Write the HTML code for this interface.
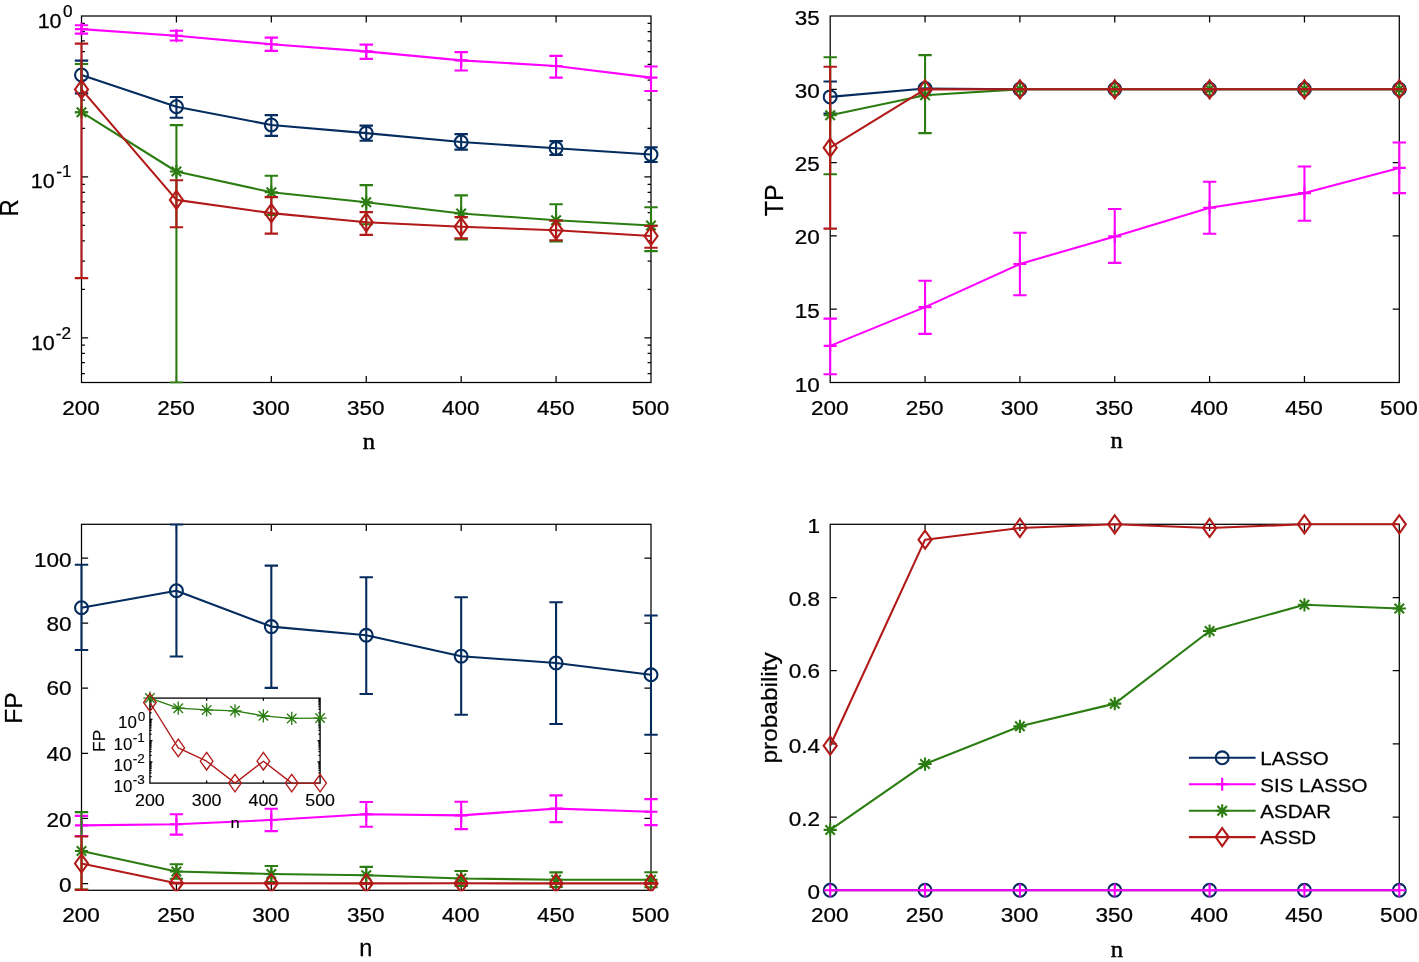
<!DOCTYPE html>
<html><head><meta charset="utf-8"><title>figure</title>
<style>html,body{margin:0;padding:0;background:#fff}svg{display:block;will-change:transform}text{white-space:pre}</style>
</head><body>
<svg width="1419" height="962" viewBox="0 0 1419 962">
<rect width="1419" height="962" fill="#fff"/>
<defs>
<clipPath id="c1"><rect x="73.5" y="15" width="585.5" height="368.5"/></clipPath>
<clipPath id="c2"><rect x="822.2" y="15" width="585.1" height="368.5"/></clipPath>
<clipPath id="c3"><rect x="73.5" y="523.3" width="585.5" height="368"/></clipPath>
<clipPath id="c4"><rect x="822.2" y="523.3" width="585.1" height="368"/></clipPath>
</defs>
<rect x="81.5" y="16" width="569.5" height="366.5" fill="none" stroke="#000" stroke-width="1.25"/>
<path d="M176.42 382.5V375.9M176.42 16V22.6M271.33 382.5V375.9M271.33 16V22.6M366.25 382.5V375.9M366.25 16V22.6M461.17 382.5V375.9M461.17 16V22.6M556.08 382.5V375.9M556.08 16V22.6M81.5 176.9H88.1M651 176.9H644.4M81.5 337.8H88.1M651 337.8H644.4M81.5 128.46H84.9M651 128.46H647.6M81.5 100.13H84.9M651 100.13H647.6M81.5 80.03H84.9M651 80.03H647.6M81.5 64.44H84.9M651 64.44H647.6M81.5 51.7H84.9M651 51.7H647.6M81.5 40.92H84.9M651 40.92H647.6M81.5 31.59H84.9M651 31.59H647.6M81.5 23.36H84.9M651 23.36H647.6M81.5 289.36H84.9M651 289.36H647.6M81.5 261.03H84.9M651 261.03H647.6M81.5 240.93H84.9M651 240.93H647.6M81.5 225.34H84.9M651 225.34H647.6M81.5 212.6H84.9M651 212.6H647.6M81.5 201.82H84.9M651 201.82H647.6M81.5 192.49H84.9M651 192.49H647.6M81.5 184.26H84.9M651 184.26H647.6M81.5 373.5H84.9M651 373.5H647.6M81.5 362.72H84.9M651 362.72H647.6M81.5 353.39H84.9M651 353.39H647.6M81.5 345.16H84.9M651 345.16H647.6" stroke="#000" stroke-width="1.25" fill="none"/>
<text transform="translate(81.1,415.1) scale(1.11,1)" font-family='"Liberation Sans", sans-serif' font-size="20.3" text-anchor="middle" fill="#000" stroke="#000" stroke-width="0.25">200</text>
<text transform="translate(176.02,415.1) scale(1.11,1)" font-family='"Liberation Sans", sans-serif' font-size="20.3" text-anchor="middle" fill="#000" stroke="#000" stroke-width="0.25">250</text>
<text transform="translate(270.93,415.1) scale(1.11,1)" font-family='"Liberation Sans", sans-serif' font-size="20.3" text-anchor="middle" fill="#000" stroke="#000" stroke-width="0.25">300</text>
<text transform="translate(365.85,415.1) scale(1.11,1)" font-family='"Liberation Sans", sans-serif' font-size="20.3" text-anchor="middle" fill="#000" stroke="#000" stroke-width="0.25">350</text>
<text transform="translate(460.77,415.1) scale(1.11,1)" font-family='"Liberation Sans", sans-serif' font-size="20.3" text-anchor="middle" fill="#000" stroke="#000" stroke-width="0.25">400</text>
<text transform="translate(555.68,415.1) scale(1.11,1)" font-family='"Liberation Sans", sans-serif' font-size="20.3" text-anchor="middle" fill="#000" stroke="#000" stroke-width="0.25">450</text>
<text transform="translate(650.6,415.1) scale(1.11,1)" font-family='"Liberation Sans", sans-serif' font-size="20.3" text-anchor="middle" fill="#000" stroke="#000" stroke-width="0.25">500</text>
<text transform="translate(37.64,27.5) scale(1.06,1)" font-family='"Liberation Sans", sans-serif' font-size="20.3" text-anchor="start" fill="#000" stroke="#000" stroke-width="0.25">10</text>
<text transform="translate(63.01,16.5) scale(1.1,1)" font-family='"Liberation Sans", sans-serif' font-size="15.6" text-anchor="start" fill="#000" stroke="#000" stroke-width="0.25">0</text>
<text transform="translate(30.79,188.4) scale(1.06,1)" font-family='"Liberation Sans", sans-serif' font-size="20.3" text-anchor="start" fill="#000" stroke="#000" stroke-width="0.25">10</text>
<text transform="translate(56.23,177.2) scale(1.1,1)" font-family='"Liberation Sans", sans-serif' font-size="15.6" text-anchor="start" fill="#000" stroke="#000" stroke-width="0.25">-1</text>
<text transform="translate(30.89,349.85) scale(1.06,1)" font-family='"Liberation Sans", sans-serif' font-size="20.3" text-anchor="start" fill="#000" stroke="#000" stroke-width="0.25">10</text>
<text transform="translate(55.78,339) scale(1.1,1)" font-family='"Liberation Sans", sans-serif' font-size="15.6" text-anchor="start" fill="#000" stroke="#000" stroke-width="0.25">-2</text>
<text transform="translate(18,216.58) rotate(-90) scale(0.94,1)" font-family='"Liberation Sans", sans-serif' font-size="25.45" text-anchor="start" fill="#000" stroke="#000" stroke-width="0.25">R</text>
<text transform="translate(362.75,448.6) scale(1.02,1)" font-family='"Liberation Serif", serif' font-size="24.04" text-anchor="start" fill="#000" stroke="#000" stroke-width="0.45">n</text>
<g clip-path="url(#c1)">
<path d="M81.5 60.6V93.4M74.8 60.6H88.2M74.8 93.4H88.2M176.42 97V117.8M169.72 97H183.12M169.72 117.8H183.12M271.33 115.1V135.9M264.63 115.1H278.03M264.63 135.9H278.03M366.25 125.6V140.8M359.55 125.6H372.95M359.55 140.8H372.95M461.17 134.1V149.6M454.47 134.1H467.87M454.47 149.6H467.87M556.08 141.1V155M549.38 141.1H562.78M549.38 155H562.78M651 147.3V162M644.3 147.3H657.7M644.3 162H657.7" stroke="#052C5F" stroke-width="2.1" fill="none"/>
<polyline points="81.5,75 176.42,106.7 271.33,125 366.25,133.1 461.17,142 556.08,148.3 651,154.5" fill="none" stroke="#052C5F" stroke-width="2.1" stroke-linejoin="round"/>
<circle cx="81.5" cy="75" r="6.45" fill="none" stroke="#052C5F" stroke-width="2.1"/>
<circle cx="176.42" cy="106.7" r="6.45" fill="none" stroke="#052C5F" stroke-width="2.1"/>
<circle cx="271.33" cy="125" r="6.45" fill="none" stroke="#052C5F" stroke-width="2.1"/>
<circle cx="366.25" cy="133.1" r="6.45" fill="none" stroke="#052C5F" stroke-width="2.1"/>
<circle cx="461.17" cy="142" r="6.45" fill="none" stroke="#052C5F" stroke-width="2.1"/>
<circle cx="556.08" cy="148.3" r="6.45" fill="none" stroke="#052C5F" stroke-width="2.1"/>
<circle cx="651" cy="154.5" r="6.45" fill="none" stroke="#052C5F" stroke-width="2.1"/>
<path d="M81.5 25.3V33.6M74.8 25.3H88.2M74.8 33.6H88.2M176.42 30.7V40.5M169.72 30.7H183.12M169.72 40.5H183.12M271.33 37.6V50.9M264.63 37.6H278.03M264.63 50.9H278.03M366.25 44.6V58.9M359.55 44.6H372.95M359.55 58.9H372.95M461.17 52.1V70.5M454.47 52.1H467.87M454.47 70.5H467.87M556.08 55.9V77.6M549.38 55.9H562.78M549.38 77.6H562.78M651 66.5V91M644.3 66.5H657.7M644.3 91H657.7" stroke="#FF00FF" stroke-width="2.1" fill="none"/>
<polyline points="81.5,29.1 176.42,35.7 271.33,44.2 366.25,51.4 461.17,60.4 556.08,66 651,77.6" fill="none" stroke="#FF00FF" stroke-width="2.1" stroke-linejoin="round"/>
<path d="M75 29.1H88M81.5 22.6V35.6" stroke="#FF00FF" stroke-width="2.1" fill="none"/>
<path d="M169.92 35.7H182.92M176.42 29.2V42.2" stroke="#FF00FF" stroke-width="2.1" fill="none"/>
<path d="M264.83 44.2H277.83M271.33 37.7V50.7" stroke="#FF00FF" stroke-width="2.1" fill="none"/>
<path d="M359.75 51.4H372.75M366.25 44.9V57.9" stroke="#FF00FF" stroke-width="2.1" fill="none"/>
<path d="M454.67 60.4H467.67M461.17 53.9V66.9" stroke="#FF00FF" stroke-width="2.1" fill="none"/>
<path d="M549.58 66H562.58M556.08 59.5V72.5" stroke="#FF00FF" stroke-width="2.1" fill="none"/>
<path d="M644.5 77.6H657.5M651 71.1V84.1" stroke="#FF00FF" stroke-width="2.1" fill="none"/>
<path d="M81.5 64V112.2M74.8 64H88.2M74.8 112.2H88.2M176.42 125.1V382.5M169.72 125.1H183.12M169.72 382.5H183.12M271.33 175.8V215M264.63 175.8H278.03M264.63 215H278.03M366.25 185.1V224.3M359.55 185.1H372.95M359.55 224.3H372.95M461.17 195.4V239.4M454.47 195.4H467.87M454.47 239.4H467.87M556.08 204.3V241.4M549.38 204.3H562.78M549.38 241.4H562.78M651 207.3V251.1M644.3 207.3H657.7M644.3 251.1H657.7" stroke="#2B7D12" stroke-width="2.1" fill="none"/>
<polyline points="81.5,112.2 176.42,171.5 271.33,192.3 366.25,202.3 461.17,213.5 556.08,220.2 651,225.5" fill="none" stroke="#2B7D12" stroke-width="2.1" stroke-linejoin="round"/>
<path d="M74.9 112.2H88.1M81.5 105.6V118.8M76.75 107.45L86.25 116.95M76.75 116.95L86.25 107.45" stroke="#2B7D12" stroke-width="2.1" fill="none"/>
<path d="M169.82 171.5H183.02M176.42 164.9V178.1M171.66 166.75L181.17 176.25M171.66 176.25L181.17 166.75" stroke="#2B7D12" stroke-width="2.1" fill="none"/>
<path d="M264.73 192.3H277.93M271.33 185.7V198.9M266.58 187.55L276.09 197.05M266.58 197.05L276.09 187.55" stroke="#2B7D12" stroke-width="2.1" fill="none"/>
<path d="M359.65 202.3H372.85M366.25 195.7V208.9M361.5 197.55L371 207.05M361.5 207.05L371 197.55" stroke="#2B7D12" stroke-width="2.1" fill="none"/>
<path d="M454.57 213.5H467.77M461.17 206.9V220.1M456.41 208.75L465.92 218.25M456.41 218.25L465.92 208.75" stroke="#2B7D12" stroke-width="2.1" fill="none"/>
<path d="M549.48 220.2H562.68M556.08 213.6V226.8M551.33 215.45L560.84 224.95M551.33 224.95L560.84 215.45" stroke="#2B7D12" stroke-width="2.1" fill="none"/>
<path d="M644.4 225.5H657.6M651 218.9V232.1M646.25 220.75L655.75 230.25M646.25 230.25L655.75 220.75" stroke="#2B7D12" stroke-width="2.1" fill="none"/>
<path d="M81.5 43.6V278.1M74.8 43.6H88.2M74.8 278.1H88.2M176.42 180.2V227.3M169.72 180.2H183.12M169.72 227.3H183.12M271.33 197.1V233.6M264.63 197.1H278.03M264.63 233.6H278.03M366.25 212.1V234.9M359.55 212.1H372.95M359.55 234.9H372.95M461.17 217.1V238.2M454.47 217.1H467.87M454.47 238.2H467.87M556.08 220.7V240.2M549.38 220.7H562.78M549.38 240.2H562.78M651 226V247.7M644.3 226H657.7M644.3 247.7H657.7" stroke="#B21919" stroke-width="2.1" fill="none"/>
<polyline points="81.5,89.4 176.42,199.9 271.33,213.1 366.25,222.3 461.17,226.8 556.08,230.2 651,236" fill="none" stroke="#B21919" stroke-width="2.1" stroke-linejoin="round"/>
<path d="M81.5 80.35L88.05 89.4L81.5 98.45L74.95 89.4Z" stroke="#B21919" stroke-width="2.1" fill="none" stroke-linejoin="miter" stroke-miterlimit="10"/>
<path d="M176.42 190.85L182.97 199.9L176.42 208.95L169.87 199.9Z" stroke="#B21919" stroke-width="2.1" fill="none" stroke-linejoin="miter" stroke-miterlimit="10"/>
<path d="M271.33 204.05L277.88 213.1L271.33 222.15L264.78 213.1Z" stroke="#B21919" stroke-width="2.1" fill="none" stroke-linejoin="miter" stroke-miterlimit="10"/>
<path d="M366.25 213.25L372.8 222.3L366.25 231.35L359.7 222.3Z" stroke="#B21919" stroke-width="2.1" fill="none" stroke-linejoin="miter" stroke-miterlimit="10"/>
<path d="M461.17 217.75L467.72 226.8L461.17 235.85L454.62 226.8Z" stroke="#B21919" stroke-width="2.1" fill="none" stroke-linejoin="miter" stroke-miterlimit="10"/>
<path d="M556.08 221.15L562.63 230.2L556.08 239.25L549.53 230.2Z" stroke="#B21919" stroke-width="2.1" fill="none" stroke-linejoin="miter" stroke-miterlimit="10"/>
<path d="M651 226.95L657.55 236L651 245.05L644.45 236Z" stroke="#B21919" stroke-width="2.1" fill="none" stroke-linejoin="miter" stroke-miterlimit="10"/>
</g>
<rect x="830.2" y="16" width="569.1" height="366.5" fill="none" stroke="#000" stroke-width="1.25"/>
<path d="M925.05 382.5V375.9M925.05 16V22.6M1019.9 382.5V375.9M1019.9 16V22.6M1114.75 382.5V375.9M1114.75 16V22.6M1209.6 382.5V375.9M1209.6 16V22.6M1304.45 382.5V375.9M1304.45 16V22.6M830.2 89.3H836.8M1399.3 89.3H1392.7M830.2 162.6H836.8M1399.3 162.6H1392.7M830.2 235.9H836.8M1399.3 235.9H1392.7M830.2 309.2H836.8M1399.3 309.2H1392.7" stroke="#000" stroke-width="1.25" fill="none"/>
<text transform="translate(829.8,415.1) scale(1.11,1)" font-family='"Liberation Sans", sans-serif' font-size="20.3" text-anchor="middle" fill="#000" stroke="#000" stroke-width="0.25">200</text>
<text transform="translate(924.65,415.1) scale(1.11,1)" font-family='"Liberation Sans", sans-serif' font-size="20.3" text-anchor="middle" fill="#000" stroke="#000" stroke-width="0.25">250</text>
<text transform="translate(1019.5,415.1) scale(1.11,1)" font-family='"Liberation Sans", sans-serif' font-size="20.3" text-anchor="middle" fill="#000" stroke="#000" stroke-width="0.25">300</text>
<text transform="translate(1114.35,415.1) scale(1.11,1)" font-family='"Liberation Sans", sans-serif' font-size="20.3" text-anchor="middle" fill="#000" stroke="#000" stroke-width="0.25">350</text>
<text transform="translate(1209.2,415.1) scale(1.11,1)" font-family='"Liberation Sans", sans-serif' font-size="20.3" text-anchor="middle" fill="#000" stroke="#000" stroke-width="0.25">400</text>
<text transform="translate(1304.05,415.1) scale(1.11,1)" font-family='"Liberation Sans", sans-serif' font-size="20.3" text-anchor="middle" fill="#000" stroke="#000" stroke-width="0.25">450</text>
<text transform="translate(1398.9,415.1) scale(1.11,1)" font-family='"Liberation Sans", sans-serif' font-size="20.3" text-anchor="middle" fill="#000" stroke="#000" stroke-width="0.25">500</text>
<text transform="translate(819.7,24.8) scale(1.11,1)" font-family='"Liberation Sans", sans-serif' font-size="20.3" text-anchor="end" fill="#000" stroke="#000" stroke-width="0.25">35</text>
<text transform="translate(819.7,97.6) scale(1.11,1)" font-family='"Liberation Sans", sans-serif' font-size="20.3" text-anchor="end" fill="#000" stroke="#000" stroke-width="0.25">30</text>
<text transform="translate(819.7,170.9) scale(1.11,1)" font-family='"Liberation Sans", sans-serif' font-size="20.3" text-anchor="end" fill="#000" stroke="#000" stroke-width="0.25">25</text>
<text transform="translate(819.7,244.2) scale(1.11,1)" font-family='"Liberation Sans", sans-serif' font-size="20.3" text-anchor="end" fill="#000" stroke="#000" stroke-width="0.25">20</text>
<text transform="translate(819.7,317.5) scale(1.11,1)" font-family='"Liberation Sans", sans-serif' font-size="20.3" text-anchor="end" fill="#000" stroke="#000" stroke-width="0.25">15</text>
<text transform="translate(819.7,391.6) scale(1.11,1)" font-family='"Liberation Sans", sans-serif' font-size="20.3" text-anchor="end" fill="#000" stroke="#000" stroke-width="0.25">10</text>
<text transform="translate(782.7,216.26) rotate(-90) scale(0.98,1)" font-family='"Liberation Sans", sans-serif' font-size="25.45" text-anchor="start" fill="#000" stroke="#000" stroke-width="0.25">TP</text>
<text transform="translate(1110.55,448.3) scale(1.02,1)" font-family='"Liberation Serif", serif' font-size="24.04" text-anchor="start" fill="#000" stroke="#000" stroke-width="0.45">n</text>
<g clip-path="url(#c2)">
<path d="M830.2 81.5V113.6M823.5 81.5H836.9M823.5 113.6H836.9M925.05 88.5V88.5M918.35 88.5H931.75M918.35 88.5H931.75M1019.9 89.3V89.3M1013.2 89.3H1026.6M1013.2 89.3H1026.6M1114.75 89.3V89.3M1108.05 89.3H1121.45M1108.05 89.3H1121.45M1209.6 89.3V89.3M1202.9 89.3H1216.3M1202.9 89.3H1216.3M1304.45 89.3V89.3M1297.75 89.3H1311.15M1297.75 89.3H1311.15M1399.3 89.3V89.3M1392.6 89.3H1406M1392.6 89.3H1406" stroke="#052C5F" stroke-width="2.1" fill="none"/>
<polyline points="830.2,96.9 925.05,88.5 1019.9,89.3 1114.75,89.3 1209.6,89.3 1304.45,89.3 1399.3,89.3" fill="none" stroke="#052C5F" stroke-width="2.1" stroke-linejoin="round"/>
<circle cx="830.2" cy="96.9" r="6.45" fill="none" stroke="#052C5F" stroke-width="2.1"/>
<circle cx="925.05" cy="88.5" r="6.45" fill="none" stroke="#052C5F" stroke-width="2.1"/>
<circle cx="1019.9" cy="89.3" r="6.45" fill="none" stroke="#052C5F" stroke-width="2.1"/>
<circle cx="1114.75" cy="89.3" r="6.45" fill="none" stroke="#052C5F" stroke-width="2.1"/>
<circle cx="1209.6" cy="89.3" r="6.45" fill="none" stroke="#052C5F" stroke-width="2.1"/>
<circle cx="1304.45" cy="89.3" r="6.45" fill="none" stroke="#052C5F" stroke-width="2.1"/>
<circle cx="1399.3" cy="89.3" r="6.45" fill="none" stroke="#052C5F" stroke-width="2.1"/>
<path d="M830.2 318.6V374.3M823.5 318.6H836.9M823.5 374.3H836.9M925.05 280.8V333.9M918.35 280.8H931.75M918.35 333.9H931.75M1019.9 232.8V295.3M1013.2 232.8H1026.6M1013.2 295.3H1026.6M1114.75 209V262.9M1108.05 209H1121.45M1108.05 262.9H1121.45M1209.6 181.8V233.8M1202.9 181.8H1216.3M1202.9 233.8H1216.3M1304.45 166.5V220.7M1297.75 166.5H1311.15M1297.75 220.7H1311.15M1399.3 142.5V193.1M1392.6 142.5H1406M1392.6 193.1H1406" stroke="#FF00FF" stroke-width="2.1" fill="none"/>
<polyline points="830.2,345.9 925.05,307.1 1019.9,264 1114.75,236.4 1209.6,207.7 1304.45,193.1 1399.3,167.9" fill="none" stroke="#FF00FF" stroke-width="2.1" stroke-linejoin="round"/>
<path d="M823.7 345.9H836.7M830.2 339.4V352.4" stroke="#FF00FF" stroke-width="2.1" fill="none"/>
<path d="M918.55 307.1H931.55M925.05 300.6V313.6" stroke="#FF00FF" stroke-width="2.1" fill="none"/>
<path d="M1013.4 264H1026.4M1019.9 257.5V270.5" stroke="#FF00FF" stroke-width="2.1" fill="none"/>
<path d="M1108.25 236.4H1121.25M1114.75 229.9V242.9" stroke="#FF00FF" stroke-width="2.1" fill="none"/>
<path d="M1203.1 207.7H1216.1M1209.6 201.2V214.2" stroke="#FF00FF" stroke-width="2.1" fill="none"/>
<path d="M1297.95 193.1H1310.95M1304.45 186.6V199.6" stroke="#FF00FF" stroke-width="2.1" fill="none"/>
<path d="M1392.8 167.9H1405.8M1399.3 161.4V174.4" stroke="#FF00FF" stroke-width="2.1" fill="none"/>
<path d="M830.2 57.3V174.3M823.5 57.3H836.9M823.5 174.3H836.9M925.05 55.1V133.1M918.35 55.1H931.75M918.35 133.1H931.75M1019.9 89.3V89.3M1013.2 89.3H1026.6M1013.2 89.3H1026.6M1114.75 89.3V89.3M1108.05 89.3H1121.45M1108.05 89.3H1121.45M1209.6 89.3V89.3M1202.9 89.3H1216.3M1202.9 89.3H1216.3M1304.45 89.3V89.3M1297.75 89.3H1311.15M1297.75 89.3H1311.15M1399.3 89.3V89.3M1392.6 89.3H1406M1392.6 89.3H1406" stroke="#2B7D12" stroke-width="2.1" fill="none"/>
<polyline points="830.2,115.3 925.05,95.2 1019.9,89.3 1114.75,89.3 1209.6,89.3 1304.45,89.3 1399.3,89.3" fill="none" stroke="#2B7D12" stroke-width="2.1" stroke-linejoin="round"/>
<path d="M823.6 115.3H836.8M830.2 108.7V121.9M825.45 110.55L834.95 120.05M825.45 120.05L834.95 110.55" stroke="#2B7D12" stroke-width="2.1" fill="none"/>
<path d="M918.45 95.2H931.65M925.05 88.6V101.8M920.3 90.45L929.8 99.95M920.3 99.95L929.8 90.45" stroke="#2B7D12" stroke-width="2.1" fill="none"/>
<path d="M1013.3 89.3H1026.5M1019.9 82.7V95.9M1015.15 84.55L1024.65 94.05M1015.15 94.05L1024.65 84.55" stroke="#2B7D12" stroke-width="2.1" fill="none"/>
<path d="M1108.15 89.3H1121.35M1114.75 82.7V95.9M1110 84.55L1119.5 94.05M1110 94.05L1119.5 84.55" stroke="#2B7D12" stroke-width="2.1" fill="none"/>
<path d="M1203 89.3H1216.2M1209.6 82.7V95.9M1204.85 84.55L1214.35 94.05M1204.85 94.05L1214.35 84.55" stroke="#2B7D12" stroke-width="2.1" fill="none"/>
<path d="M1297.85 89.3H1311.05M1304.45 82.7V95.9M1299.7 84.55L1309.2 94.05M1299.7 94.05L1309.2 84.55" stroke="#2B7D12" stroke-width="2.1" fill="none"/>
<path d="M1392.7 89.3H1405.9M1399.3 82.7V95.9M1394.55 84.55L1404.05 94.05M1394.55 94.05L1404.05 84.55" stroke="#2B7D12" stroke-width="2.1" fill="none"/>
<path d="M830.2 66.8V228.6M823.5 66.8H836.9M823.5 228.6H836.9M925.05 89.4V89.4M918.35 89.4H931.75M918.35 89.4H931.75M1019.9 89.3V89.3M1013.2 89.3H1026.6M1013.2 89.3H1026.6M1114.75 89.3V89.3M1108.05 89.3H1121.45M1108.05 89.3H1121.45M1209.6 89.3V89.3M1202.9 89.3H1216.3M1202.9 89.3H1216.3M1304.45 89.3V89.3M1297.75 89.3H1311.15M1297.75 89.3H1311.15M1399.3 89.3V89.3M1392.6 89.3H1406M1392.6 89.3H1406" stroke="#B21919" stroke-width="2.1" fill="none"/>
<polyline points="830.2,147.7 925.05,89.4 1019.9,89.3 1114.75,89.3 1209.6,89.3 1304.45,89.3 1399.3,89.3" fill="none" stroke="#B21919" stroke-width="2.1" stroke-linejoin="round"/>
<path d="M830.2 138.65L836.75 147.7L830.2 156.75L823.65 147.7Z" stroke="#B21919" stroke-width="2.1" fill="none" stroke-linejoin="miter" stroke-miterlimit="10"/>
<path d="M925.05 80.35L931.6 89.4L925.05 98.45L918.5 89.4Z" stroke="#B21919" stroke-width="2.1" fill="none" stroke-linejoin="miter" stroke-miterlimit="10"/>
<path d="M1019.9 80.25L1026.45 89.3L1019.9 98.35L1013.35 89.3Z" stroke="#B21919" stroke-width="2.1" fill="none" stroke-linejoin="miter" stroke-miterlimit="10"/>
<path d="M1114.75 80.25L1121.3 89.3L1114.75 98.35L1108.2 89.3Z" stroke="#B21919" stroke-width="2.1" fill="none" stroke-linejoin="miter" stroke-miterlimit="10"/>
<path d="M1209.6 80.25L1216.15 89.3L1209.6 98.35L1203.05 89.3Z" stroke="#B21919" stroke-width="2.1" fill="none" stroke-linejoin="miter" stroke-miterlimit="10"/>
<path d="M1304.45 80.25L1311 89.3L1304.45 98.35L1297.9 89.3Z" stroke="#B21919" stroke-width="2.1" fill="none" stroke-linejoin="miter" stroke-miterlimit="10"/>
<path d="M1399.3 80.25L1405.85 89.3L1399.3 98.35L1392.75 89.3Z" stroke="#B21919" stroke-width="2.1" fill="none" stroke-linejoin="miter" stroke-miterlimit="10"/>
</g>
<rect x="81.5" y="524.3" width="569.5" height="366" fill="none" stroke="#000" stroke-width="1.25"/>
<path d="M176.42 890.3V883.7M176.42 524.3V530.9M271.33 890.3V883.7M271.33 524.3V530.9M366.25 890.3V883.7M366.25 524.3V530.9M461.17 890.3V883.7M461.17 524.3V530.9M556.08 890.3V883.7M556.08 524.3V530.9M81.5 883.5H88.1M651 883.5H644.4M81.5 818.4H88.1M651 818.4H644.4M81.5 753.3H88.1M651 753.3H644.4M81.5 688.2H88.1M651 688.2H644.4M81.5 623.1H88.1M651 623.1H644.4M81.5 558H88.1M651 558H644.4" stroke="#000" stroke-width="1.25" fill="none"/>
<text transform="translate(81.1,922.4) scale(1.11,1)" font-family='"Liberation Sans", sans-serif' font-size="20.3" text-anchor="middle" fill="#000" stroke="#000" stroke-width="0.25">200</text>
<text transform="translate(176.02,922.4) scale(1.11,1)" font-family='"Liberation Sans", sans-serif' font-size="20.3" text-anchor="middle" fill="#000" stroke="#000" stroke-width="0.25">250</text>
<text transform="translate(270.93,922.4) scale(1.11,1)" font-family='"Liberation Sans", sans-serif' font-size="20.3" text-anchor="middle" fill="#000" stroke="#000" stroke-width="0.25">300</text>
<text transform="translate(365.85,922.4) scale(1.11,1)" font-family='"Liberation Sans", sans-serif' font-size="20.3" text-anchor="middle" fill="#000" stroke="#000" stroke-width="0.25">350</text>
<text transform="translate(460.77,922.4) scale(1.11,1)" font-family='"Liberation Sans", sans-serif' font-size="20.3" text-anchor="middle" fill="#000" stroke="#000" stroke-width="0.25">400</text>
<text transform="translate(555.68,922.4) scale(1.11,1)" font-family='"Liberation Sans", sans-serif' font-size="20.3" text-anchor="middle" fill="#000" stroke="#000" stroke-width="0.25">450</text>
<text transform="translate(650.6,922.4) scale(1.11,1)" font-family='"Liberation Sans", sans-serif' font-size="20.3" text-anchor="middle" fill="#000" stroke="#000" stroke-width="0.25">500</text>
<text transform="translate(71.5,891.8) scale(1.11,1)" font-family='"Liberation Sans", sans-serif' font-size="20.3" text-anchor="end" fill="#000" stroke="#000" stroke-width="0.25">0</text>
<text transform="translate(71.5,826.7) scale(1.11,1)" font-family='"Liberation Sans", sans-serif' font-size="20.3" text-anchor="end" fill="#000" stroke="#000" stroke-width="0.25">20</text>
<text transform="translate(71.5,760.8) scale(1.11,1)" font-family='"Liberation Sans", sans-serif' font-size="20.3" text-anchor="end" fill="#000" stroke="#000" stroke-width="0.25">40</text>
<text transform="translate(71.5,694.6) scale(1.11,1)" font-family='"Liberation Sans", sans-serif' font-size="20.3" text-anchor="end" fill="#000" stroke="#000" stroke-width="0.25">60</text>
<text transform="translate(71.5,631.4) scale(1.11,1)" font-family='"Liberation Sans", sans-serif' font-size="20.3" text-anchor="end" fill="#000" stroke="#000" stroke-width="0.25">80</text>
<text transform="translate(71.5,566.8) scale(1.11,1)" font-family='"Liberation Sans", sans-serif' font-size="20.3" text-anchor="end" fill="#000" stroke="#000" stroke-width="0.25">100</text>
<text transform="translate(21.7,723.74) rotate(-90) scale(1.03,1)" font-family='"Liberation Sans", sans-serif' font-size="24" text-anchor="start" fill="#000" stroke="#000" stroke-width="0.25">FP</text>
<text transform="translate(359.32,955.7) scale(1.02,1)" font-family='"Liberation Sans", sans-serif' font-size="23.07" text-anchor="start" fill="#000" stroke="#000" stroke-width="0.25">n</text>
<g clip-path="url(#c3)">
<path d="M81.5 564.8V650M74.8 564.8H88.2M74.8 650H88.2M176.42 524.5V656.5M169.72 524.5H183.12M169.72 656.5H183.12M271.33 565.6V687.9M264.63 565.6H278.03M264.63 687.9H278.03M366.25 577.3V694M359.55 577.3H372.95M359.55 694H372.95M461.17 597.3V714.8M454.47 597.3H467.87M454.47 714.8H467.87M556.08 602.2V724M549.38 602.2H562.78M549.38 724H562.78M651 615.5V734.7M644.3 615.5H657.7M644.3 734.7H657.7" stroke="#052C5F" stroke-width="2.1" fill="none"/>
<polyline points="81.5,607.7 176.42,590.7 271.33,626.6 366.25,635.3 461.17,656.2 556.08,663 651,674.8" fill="none" stroke="#052C5F" stroke-width="2.1" stroke-linejoin="round"/>
<circle cx="81.5" cy="607.7" r="6.45" fill="none" stroke="#052C5F" stroke-width="2.1"/>
<circle cx="176.42" cy="590.7" r="6.45" fill="none" stroke="#052C5F" stroke-width="2.1"/>
<circle cx="271.33" cy="626.6" r="6.45" fill="none" stroke="#052C5F" stroke-width="2.1"/>
<circle cx="366.25" cy="635.3" r="6.45" fill="none" stroke="#052C5F" stroke-width="2.1"/>
<circle cx="461.17" cy="656.2" r="6.45" fill="none" stroke="#052C5F" stroke-width="2.1"/>
<circle cx="556.08" cy="663" r="6.45" fill="none" stroke="#052C5F" stroke-width="2.1"/>
<circle cx="651" cy="674.8" r="6.45" fill="none" stroke="#052C5F" stroke-width="2.1"/>
<path d="M81.5 815.9V836M74.8 815.9H88.2M74.8 836H88.2M176.42 814.2V834.6M169.72 814.2H183.12M169.72 834.6H183.12M271.33 808.8V831.1M264.63 808.8H278.03M264.63 831.1H278.03M366.25 802V826.8M359.55 802H372.95M359.55 826.8H372.95M461.17 801.7V829.1M454.47 801.7H467.87M454.47 829.1H467.87M556.08 795.4V822.1M549.38 795.4H562.78M549.38 822.1H562.78M651 799.1V825.1M644.3 799.1H657.7M644.3 825.1H657.7" stroke="#FF00FF" stroke-width="2.1" fill="none"/>
<polyline points="81.5,825.4 176.42,824.2 271.33,820 366.25,814.2 461.17,815.4 556.08,808.6 651,811.8" fill="none" stroke="#FF00FF" stroke-width="2.1" stroke-linejoin="round"/>
<path d="M75 825.4H88M81.5 818.9V831.9" stroke="#FF00FF" stroke-width="2.1" fill="none"/>
<path d="M169.92 824.2H182.92M176.42 817.7V830.7" stroke="#FF00FF" stroke-width="2.1" fill="none"/>
<path d="M264.83 820H277.83M271.33 813.5V826.5" stroke="#FF00FF" stroke-width="2.1" fill="none"/>
<path d="M359.75 814.2H372.75M366.25 807.7V820.7" stroke="#FF00FF" stroke-width="2.1" fill="none"/>
<path d="M454.67 815.4H467.67M461.17 808.9V821.9" stroke="#FF00FF" stroke-width="2.1" fill="none"/>
<path d="M549.58 808.6H562.58M556.08 802.1V815.1" stroke="#FF00FF" stroke-width="2.1" fill="none"/>
<path d="M644.5 811.8H657.5M651 805.3V818.3" stroke="#FF00FF" stroke-width="2.1" fill="none"/>
<path d="M81.5 812.1V889.6M74.8 812.1H88.2M74.8 889.6H88.2M176.42 864.3V878.7M169.72 864.3H183.12M169.72 878.7H183.12M271.33 866V882M264.63 866H278.03M264.63 882H278.03M366.25 866.9V883.5M359.55 866.9H372.95M359.55 883.5H372.95M461.17 871V886M454.47 871H467.87M454.47 886H467.87M556.08 872.4V887M549.38 872.4H562.78M549.38 887H562.78M651 872.2V887.2M644.3 872.2H657.7M644.3 887.2H657.7" stroke="#2B7D12" stroke-width="2.1" fill="none"/>
<polyline points="81.5,851 176.42,871.5 271.33,874 366.25,875.2 461.17,878.5 556.08,879.7 651,879.7" fill="none" stroke="#2B7D12" stroke-width="2.1" stroke-linejoin="round"/>
<path d="M74.9 851H88.1M81.5 844.4V857.6M76.75 846.25L86.25 855.75M76.75 855.75L86.25 846.25" stroke="#2B7D12" stroke-width="2.1" fill="none"/>
<path d="M169.82 871.5H183.02M176.42 864.9V878.1M171.66 866.75L181.17 876.25M171.66 876.25L181.17 866.75" stroke="#2B7D12" stroke-width="2.1" fill="none"/>
<path d="M264.73 874H277.93M271.33 867.4V880.6M266.58 869.25L276.09 878.75M266.58 878.75L276.09 869.25" stroke="#2B7D12" stroke-width="2.1" fill="none"/>
<path d="M359.65 875.2H372.85M366.25 868.6V881.8M361.5 870.45L371 879.95M361.5 879.95L371 870.45" stroke="#2B7D12" stroke-width="2.1" fill="none"/>
<path d="M454.57 878.5H467.77M461.17 871.9V885.1M456.41 873.75L465.92 883.25M456.41 883.25L465.92 873.75" stroke="#2B7D12" stroke-width="2.1" fill="none"/>
<path d="M549.48 879.7H562.68M556.08 873.1V886.3M551.33 874.95L560.84 884.45M551.33 884.45L560.84 874.95" stroke="#2B7D12" stroke-width="2.1" fill="none"/>
<path d="M644.4 879.7H657.6M651 873.1V886.3M646.25 874.95L655.75 884.45M646.25 884.45L655.75 874.95" stroke="#2B7D12" stroke-width="2.1" fill="none"/>
<path d="M81.5 836.5V889.9M74.8 836.5H88.2M74.8 889.9H88.2M176.42 882.9V883.5M169.72 882.9H183.12M169.72 883.5H183.12M271.33 883V883.6M264.63 883H278.03M264.63 883.6H278.03M366.25 883.1V883.7M359.55 883.1H372.95M359.55 883.7H372.95M461.17 883V883.6M454.47 883H467.87M454.47 883.6H467.87M556.08 883.1V883.7M549.38 883.1H562.78M549.38 883.7H562.78M651 883.1V883.7M644.3 883.1H657.7M644.3 883.7H657.7" stroke="#B21919" stroke-width="2.1" fill="none"/>
<polyline points="81.5,863.5 176.42,883.2 271.33,883.3 366.25,883.4 461.17,883.3 556.08,883.4 651,883.4" fill="none" stroke="#B21919" stroke-width="2.1" stroke-linejoin="round"/>
<path d="M81.5 854.45L88.05 863.5L81.5 872.55L74.95 863.5Z" stroke="#B21919" stroke-width="2.1" fill="none" stroke-linejoin="miter" stroke-miterlimit="10"/>
<path d="M176.42 874.15L182.97 883.2L176.42 892.25L169.87 883.2Z" stroke="#B21919" stroke-width="2.1" fill="none" stroke-linejoin="miter" stroke-miterlimit="10"/>
<path d="M271.33 874.25L277.88 883.3L271.33 892.35L264.78 883.3Z" stroke="#B21919" stroke-width="2.1" fill="none" stroke-linejoin="miter" stroke-miterlimit="10"/>
<path d="M366.25 874.35L372.8 883.4L366.25 892.45L359.7 883.4Z" stroke="#B21919" stroke-width="2.1" fill="none" stroke-linejoin="miter" stroke-miterlimit="10"/>
<path d="M461.17 874.25L467.72 883.3L461.17 892.35L454.62 883.3Z" stroke="#B21919" stroke-width="2.1" fill="none" stroke-linejoin="miter" stroke-miterlimit="10"/>
<path d="M556.08 874.35L562.63 883.4L556.08 892.45L549.53 883.4Z" stroke="#B21919" stroke-width="2.1" fill="none" stroke-linejoin="miter" stroke-miterlimit="10"/>
<path d="M651 874.35L657.55 883.4L651 892.45L644.45 883.4Z" stroke="#B21919" stroke-width="2.1" fill="none" stroke-linejoin="miter" stroke-miterlimit="10"/>
</g>
<rect x="149.9" y="698.1" width="170.2" height="85" fill="none" stroke="#000" stroke-width="1.3"/>
<path d="M206.63 783.1V780.5M206.63 698.1V700.7M263.37 783.1V780.5M263.37 698.1V700.7M149.9 719.35H152.5M320.1 719.35H317.5M149.9 740.6H152.5M320.1 740.6H317.5M149.9 761.85H152.5M320.1 761.85H317.5M149.9 712.95H151.6M320.1 712.95H318.4M149.9 709.21H151.6M320.1 709.21H318.4M149.9 706.56H151.6M320.1 706.56H318.4M149.9 704.5H151.6M320.1 704.5H318.4M149.9 702.81H151.6M320.1 702.81H318.4M149.9 701.39H151.6M320.1 701.39H318.4M149.9 700.16H151.6M320.1 700.16H318.4M149.9 699.07H151.6M320.1 699.07H318.4M149.9 734.2H151.6M320.1 734.2H318.4M149.9 730.46H151.6M320.1 730.46H318.4M149.9 727.81H151.6M320.1 727.81H318.4M149.9 725.75H151.6M320.1 725.75H318.4M149.9 724.06H151.6M320.1 724.06H318.4M149.9 722.64H151.6M320.1 722.64H318.4M149.9 721.41H151.6M320.1 721.41H318.4M149.9 720.32H151.6M320.1 720.32H318.4M149.9 755.45H151.6M320.1 755.45H318.4M149.9 751.71H151.6M320.1 751.71H318.4M149.9 749.06H151.6M320.1 749.06H318.4M149.9 747H151.6M320.1 747H318.4M149.9 745.31H151.6M320.1 745.31H318.4M149.9 743.89H151.6M320.1 743.89H318.4M149.9 742.66H151.6M320.1 742.66H318.4M149.9 741.57H151.6M320.1 741.57H318.4M149.9 776.7H151.6M320.1 776.7H318.4M149.9 772.96H151.6M320.1 772.96H318.4M149.9 770.31H151.6M320.1 770.31H318.4M149.9 768.25H151.6M320.1 768.25H318.4M149.9 766.56H151.6M320.1 766.56H318.4M149.9 765.14H151.6M320.1 765.14H318.4M149.9 763.91H151.6M320.1 763.91H318.4M149.9 762.82H151.6M320.1 762.82H318.4" stroke="#000" stroke-width="1.3" fill="none"/>
<text transform="translate(149.9,805.6) scale(1.1,1)" font-family='"Liberation Sans", sans-serif' font-size="16.2" text-anchor="middle" fill="#000" stroke="#000" stroke-width="0.12">200</text>
<text transform="translate(206.63,805.6) scale(1.1,1)" font-family='"Liberation Sans", sans-serif' font-size="16.2" text-anchor="middle" fill="#000" stroke="#000" stroke-width="0.12">300</text>
<text transform="translate(263.37,805.6) scale(1.1,1)" font-family='"Liberation Sans", sans-serif' font-size="16.2" text-anchor="middle" fill="#000" stroke="#000" stroke-width="0.12">400</text>
<text transform="translate(320.1,805.6) scale(1.1,1)" font-family='"Liberation Sans", sans-serif' font-size="16.2" text-anchor="middle" fill="#000" stroke="#000" stroke-width="0.12">500</text>
<text transform="translate(118.03,728.4) scale(1.07,1)" font-family='"Liberation Sans", sans-serif' font-size="15.8" text-anchor="start" fill="#000" stroke="#000" stroke-width="0.12">10</text>
<text transform="translate(137.86,720.5) scale(1.03,1)" font-family='"Liberation Sans", sans-serif' font-size="13.2" text-anchor="start" fill="#000" stroke="#000" stroke-width="0.12">0</text>
<text transform="translate(113.53,749.65) scale(1.07,1)" font-family='"Liberation Sans", sans-serif' font-size="15.8" text-anchor="start" fill="#000" stroke="#000" stroke-width="0.12">10</text>
<text transform="translate(132.79,741.75) scale(1.03,1)" font-family='"Liberation Sans", sans-serif' font-size="13.2" text-anchor="start" fill="#000" stroke="#000" stroke-width="0.12">-1</text>
<text transform="translate(113.53,770.9) scale(1.07,1)" font-family='"Liberation Sans", sans-serif' font-size="15.8" text-anchor="start" fill="#000" stroke="#000" stroke-width="0.12">10</text>
<text transform="translate(132.79,763) scale(1.03,1)" font-family='"Liberation Sans", sans-serif' font-size="13.2" text-anchor="start" fill="#000" stroke="#000" stroke-width="0.12">-2</text>
<text transform="translate(113.53,792.15) scale(1.07,1)" font-family='"Liberation Sans", sans-serif' font-size="15.8" text-anchor="start" fill="#000" stroke="#000" stroke-width="0.12">10</text>
<text transform="translate(132.79,784.25) scale(1.03,1)" font-family='"Liberation Sans", sans-serif' font-size="13.2" text-anchor="start" fill="#000" stroke="#000" stroke-width="0.12">-3</text>
<text transform="translate(104.8,751.92) rotate(-90) scale(1.07,1)" font-family='"Liberation Sans", sans-serif' font-size="16.15" text-anchor="start" fill="#000" stroke="#000" stroke-width="0.12">FP</text>
<text transform="translate(230.48,828.1) scale(1.2,1)" font-family='"Liberation Sans", sans-serif' font-size="13.77" text-anchor="start" fill="#000" stroke="#000" stroke-width="0.12">n</text>
<polyline points="149.9,698.1 178.27,708.2 206.63,709.9 235,710.8 263.37,715.8 291.73,718.4 320.1,718.1" fill="none" stroke="#2B7D12" stroke-width="1.35" stroke-linejoin="round"/>
<path d="M143.3 698.1H156.5M149.9 691.5V704.7M145.15 693.35L154.65 702.85M145.15 702.85L154.65 693.35" stroke="#2B7D12" stroke-width="1.35" fill="none"/>
<path d="M171.67 708.2H184.87M178.27 701.6V714.8M173.51 703.45L183.02 712.95M173.51 712.95L183.02 703.45" stroke="#2B7D12" stroke-width="1.35" fill="none"/>
<path d="M200.03 709.9H213.23M206.63 703.3V716.5M201.88 705.15L211.39 714.65M201.88 714.65L211.39 705.15" stroke="#2B7D12" stroke-width="1.35" fill="none"/>
<path d="M228.4 710.8H241.6M235 704.2V717.4M230.25 706.05L239.75 715.55M230.25 715.55L239.75 706.05" stroke="#2B7D12" stroke-width="1.35" fill="none"/>
<path d="M256.77 715.8H269.97M263.37 709.2V722.4M258.61 711.05L268.12 720.55M258.61 720.55L268.12 711.05" stroke="#2B7D12" stroke-width="1.35" fill="none"/>
<path d="M285.13 718.4H298.33M291.73 711.8V725M286.98 713.65L296.49 723.15M286.98 723.15L296.49 713.65" stroke="#2B7D12" stroke-width="1.35" fill="none"/>
<path d="M313.5 718.1H326.7M320.1 711.5V724.7M315.35 713.35L324.85 722.85M315.35 722.85L324.85 713.35" stroke="#2B7D12" stroke-width="1.35" fill="none"/>
<polyline points="149.9,702.5 178.27,747.9 206.63,761.2 235,783.1 263.37,761.2 291.73,783.1 320.1,783.1" fill="none" stroke="#B21919" stroke-width="1.35" stroke-linejoin="round"/>
<path d="M149.9 693.7L156.2 702.5L149.9 711.3L143.6 702.5Z" stroke="#B21919" stroke-width="1.35" fill="none" stroke-linejoin="miter" stroke-miterlimit="10"/>
<path d="M178.27 739.1L184.57 747.9L178.27 756.7L171.97 747.9Z" stroke="#B21919" stroke-width="1.35" fill="none" stroke-linejoin="miter" stroke-miterlimit="10"/>
<path d="M206.63 752.4L212.93 761.2L206.63 770L200.33 761.2Z" stroke="#B21919" stroke-width="1.35" fill="none" stroke-linejoin="miter" stroke-miterlimit="10"/>
<path d="M235 774.3L241.3 783.1L235 791.9L228.7 783.1Z" stroke="#B21919" stroke-width="1.35" fill="none" stroke-linejoin="miter" stroke-miterlimit="10"/>
<path d="M263.37 752.4L269.67 761.2L263.37 770L257.07 761.2Z" stroke="#B21919" stroke-width="1.35" fill="none" stroke-linejoin="miter" stroke-miterlimit="10"/>
<path d="M291.73 774.3L298.03 783.1L291.73 791.9L285.43 783.1Z" stroke="#B21919" stroke-width="1.35" fill="none" stroke-linejoin="miter" stroke-miterlimit="10"/>
<path d="M320.1 774.3L326.4 783.1L320.1 791.9L313.8 783.1Z" stroke="#B21919" stroke-width="1.35" fill="none" stroke-linejoin="miter" stroke-miterlimit="10"/>
<rect x="830.2" y="524.3" width="569.1" height="366" fill="none" stroke="#000" stroke-width="1.25"/>
<path d="M925.05 890.3V883.7M925.05 524.3V530.9M1019.9 890.3V883.7M1019.9 524.3V530.9M1114.75 890.3V883.7M1114.75 524.3V530.9M1209.6 890.3V883.7M1209.6 524.3V530.9M1304.45 890.3V883.7M1304.45 524.3V530.9M830.2 817.1H836.8M1399.3 817.1H1392.7M830.2 743.9H836.8M1399.3 743.9H1392.7M830.2 670.7H836.8M1399.3 670.7H1392.7M830.2 597.5H836.8M1399.3 597.5H1392.7" stroke="#000" stroke-width="1.25" fill="none"/>
<text transform="translate(829.8,922.4) scale(1.11,1)" font-family='"Liberation Sans", sans-serif' font-size="20.3" text-anchor="middle" fill="#000" stroke="#000" stroke-width="0.25">200</text>
<text transform="translate(924.65,922.4) scale(1.11,1)" font-family='"Liberation Sans", sans-serif' font-size="20.3" text-anchor="middle" fill="#000" stroke="#000" stroke-width="0.25">250</text>
<text transform="translate(1019.5,922.4) scale(1.11,1)" font-family='"Liberation Sans", sans-serif' font-size="20.3" text-anchor="middle" fill="#000" stroke="#000" stroke-width="0.25">300</text>
<text transform="translate(1114.35,922.4) scale(1.11,1)" font-family='"Liberation Sans", sans-serif' font-size="20.3" text-anchor="middle" fill="#000" stroke="#000" stroke-width="0.25">350</text>
<text transform="translate(1209.2,922.4) scale(1.11,1)" font-family='"Liberation Sans", sans-serif' font-size="20.3" text-anchor="middle" fill="#000" stroke="#000" stroke-width="0.25">400</text>
<text transform="translate(1304.05,922.4) scale(1.11,1)" font-family='"Liberation Sans", sans-serif' font-size="20.3" text-anchor="middle" fill="#000" stroke="#000" stroke-width="0.25">450</text>
<text transform="translate(1398.9,922.4) scale(1.11,1)" font-family='"Liberation Sans", sans-serif' font-size="20.3" text-anchor="middle" fill="#000" stroke="#000" stroke-width="0.25">500</text>
<text transform="translate(820,898.6) scale(1.11,1)" font-family='"Liberation Sans", sans-serif' font-size="20.3" text-anchor="end" fill="#000" stroke="#000" stroke-width="0.25">0</text>
<text transform="translate(820,825.9) scale(1.11,1)" font-family='"Liberation Sans", sans-serif' font-size="20.3" text-anchor="end" fill="#000" stroke="#000" stroke-width="0.25">0.2</text>
<text transform="translate(820,753.2) scale(1.11,1)" font-family='"Liberation Sans", sans-serif' font-size="20.3" text-anchor="end" fill="#000" stroke="#000" stroke-width="0.25">0.4</text>
<text transform="translate(820,677.7) scale(1.11,1)" font-family='"Liberation Sans", sans-serif' font-size="20.3" text-anchor="end" fill="#000" stroke="#000" stroke-width="0.25">0.6</text>
<text transform="translate(820,606.2) scale(1.11,1)" font-family='"Liberation Sans", sans-serif' font-size="20.3" text-anchor="end" fill="#000" stroke="#000" stroke-width="0.25">0.8</text>
<text transform="translate(820,533.3) scale(1.11,1)" font-family='"Liberation Sans", sans-serif' font-size="20.3" text-anchor="end" fill="#000" stroke="#000" stroke-width="0.25">1</text>
<text transform="translate(777.1,763.59) rotate(-90) scale(1.08,1)" font-family='"Liberation Sans", sans-serif' font-size="22.63" text-anchor="start" fill="#000" stroke="#000" stroke-width="0.25">probability</text>
<text transform="translate(1110.65,957.1) scale(1.02,1)" font-family='"Liberation Serif", serif' font-size="24.04" text-anchor="start" fill="#000" stroke="#000" stroke-width="0.45">n</text>
<polyline points="830.2,890.3 925.05,890.3 1019.9,890.3 1114.75,890.3 1209.6,890.3 1304.45,890.3 1399.3,890.3" fill="none" stroke="#052C5F" stroke-width="2.1" stroke-linejoin="round"/>
<circle cx="830.2" cy="890.3" r="6.45" fill="none" stroke="#052C5F" stroke-width="2.1"/>
<circle cx="925.05" cy="890.3" r="6.45" fill="none" stroke="#052C5F" stroke-width="2.1"/>
<circle cx="1019.9" cy="890.3" r="6.45" fill="none" stroke="#052C5F" stroke-width="2.1"/>
<circle cx="1114.75" cy="890.3" r="6.45" fill="none" stroke="#052C5F" stroke-width="2.1"/>
<circle cx="1209.6" cy="890.3" r="6.45" fill="none" stroke="#052C5F" stroke-width="2.1"/>
<circle cx="1304.45" cy="890.3" r="6.45" fill="none" stroke="#052C5F" stroke-width="2.1"/>
<circle cx="1399.3" cy="890.3" r="6.45" fill="none" stroke="#052C5F" stroke-width="2.1"/>
<polyline points="830.2,890.3 925.05,890.3 1019.9,890.3 1114.75,890.3 1209.6,890.3 1304.45,890.3 1399.3,890.3" fill="none" stroke="#FF00FF" stroke-width="2.1" stroke-linejoin="round"/>
<path d="M823.7 890.3H836.7M830.2 883.8V896.8" stroke="#FF00FF" stroke-width="2.1" fill="none"/>
<path d="M918.55 890.3H931.55M925.05 883.8V896.8" stroke="#FF00FF" stroke-width="2.1" fill="none"/>
<path d="M1013.4 890.3H1026.4M1019.9 883.8V896.8" stroke="#FF00FF" stroke-width="2.1" fill="none"/>
<path d="M1108.25 890.3H1121.25M1114.75 883.8V896.8" stroke="#FF00FF" stroke-width="2.1" fill="none"/>
<path d="M1203.1 890.3H1216.1M1209.6 883.8V896.8" stroke="#FF00FF" stroke-width="2.1" fill="none"/>
<path d="M1297.95 890.3H1310.95M1304.45 883.8V896.8" stroke="#FF00FF" stroke-width="2.1" fill="none"/>
<path d="M1392.8 890.3H1405.8M1399.3 883.8V896.8" stroke="#FF00FF" stroke-width="2.1" fill="none"/>
<polyline points="830.2,829.91 925.05,764.03 1019.9,726.33 1114.75,703.64 1209.6,630.99 1304.45,604.82 1399.3,608.48" fill="none" stroke="#2B7D12" stroke-width="2.1" stroke-linejoin="round"/>
<path d="M823.6 829.91H836.8M830.2 823.31V836.51M825.45 825.16L834.95 834.66M825.45 834.66L834.95 825.16" stroke="#2B7D12" stroke-width="2.1" fill="none"/>
<path d="M918.45 764.03H931.65M925.05 757.43V770.63M920.3 759.28L929.8 768.78M920.3 768.78L929.8 759.28" stroke="#2B7D12" stroke-width="2.1" fill="none"/>
<path d="M1013.3 726.33H1026.5M1019.9 719.73V732.93M1015.15 721.58L1024.65 731.08M1015.15 731.08L1024.65 721.58" stroke="#2B7D12" stroke-width="2.1" fill="none"/>
<path d="M1108.15 703.64H1121.35M1114.75 697.04V710.24M1110 698.89L1119.5 708.39M1110 708.39L1119.5 698.89" stroke="#2B7D12" stroke-width="2.1" fill="none"/>
<path d="M1203 630.99H1216.2M1209.6 624.39V637.59M1204.85 626.24L1214.35 635.74M1204.85 635.74L1214.35 626.24" stroke="#2B7D12" stroke-width="2.1" fill="none"/>
<path d="M1297.85 604.82H1311.05M1304.45 598.22V611.42M1299.7 600.07L1309.2 609.57M1299.7 609.57L1309.2 600.07" stroke="#2B7D12" stroke-width="2.1" fill="none"/>
<path d="M1392.7 608.48H1405.9M1399.3 601.88V615.08M1394.55 603.73L1404.05 613.23M1394.55 613.23L1404.05 603.73" stroke="#2B7D12" stroke-width="2.1" fill="none"/>
<polyline points="830.2,745.73 925.05,539.67 1019.9,527.96 1114.75,524.3 1209.6,527.96 1304.45,524.3 1399.3,524.3" fill="none" stroke="#B21919" stroke-width="2.1" stroke-linejoin="round"/>
<path d="M830.2 736.68L836.75 745.73L830.2 754.78L823.65 745.73Z" stroke="#B21919" stroke-width="2.1" fill="none" stroke-linejoin="miter" stroke-miterlimit="10"/>
<path d="M925.05 530.62L931.6 539.67L925.05 548.72L918.5 539.67Z" stroke="#B21919" stroke-width="2.1" fill="none" stroke-linejoin="miter" stroke-miterlimit="10"/>
<path d="M1019.9 518.91L1026.45 527.96L1019.9 537.01L1013.35 527.96Z" stroke="#B21919" stroke-width="2.1" fill="none" stroke-linejoin="miter" stroke-miterlimit="10"/>
<path d="M1114.75 515.25L1121.3 524.3L1114.75 533.35L1108.2 524.3Z" stroke="#B21919" stroke-width="2.1" fill="none" stroke-linejoin="miter" stroke-miterlimit="10"/>
<path d="M1209.6 518.91L1216.15 527.96L1209.6 537.01L1203.05 527.96Z" stroke="#B21919" stroke-width="2.1" fill="none" stroke-linejoin="miter" stroke-miterlimit="10"/>
<path d="M1304.45 515.25L1311 524.3L1304.45 533.35L1297.9 524.3Z" stroke="#B21919" stroke-width="2.1" fill="none" stroke-linejoin="miter" stroke-miterlimit="10"/>
<path d="M1399.3 515.25L1405.85 524.3L1399.3 533.35L1392.75 524.3Z" stroke="#B21919" stroke-width="2.1" fill="none" stroke-linejoin="miter" stroke-miterlimit="10"/>
<line x1="1188.9" y1="757.8" x2="1255.6" y2="757.8" stroke="#052C5F" stroke-width="2.1"/>
<circle cx="1222.2" cy="757.8" r="6.45" fill="none" stroke="#052C5F" stroke-width="2.1"/>
<text transform="translate(1260.3,765) scale(1.08,1)" font-family='"Liberation Sans", sans-serif' font-size="19" text-anchor="start" fill="#000" stroke="#000" stroke-width="0.25">LASSO</text>
<line x1="1188.9" y1="784.3" x2="1255.6" y2="784.3" stroke="#FF00FF" stroke-width="2.1"/>
<path d="M1215.7 784.3H1228.7M1222.2 777.8V790.8" stroke="#FF00FF" stroke-width="2.1" fill="none"/>
<text transform="translate(1260.3,791.5) scale(1.08,1)" font-family='"Liberation Sans", sans-serif' font-size="19" text-anchor="start" fill="#000" stroke="#000" stroke-width="0.25">SIS LASSO</text>
<line x1="1188.9" y1="810.8" x2="1255.6" y2="810.8" stroke="#2B7D12" stroke-width="2.1"/>
<path d="M1215.6 810.8H1228.8M1222.2 804.2V817.4M1217.45 806.05L1226.95 815.55M1217.45 815.55L1226.95 806.05" stroke="#2B7D12" stroke-width="2.1" fill="none"/>
<text transform="translate(1260.3,818) scale(1.08,1)" font-family='"Liberation Sans", sans-serif' font-size="19" text-anchor="start" fill="#000" stroke="#000" stroke-width="0.25">ASDAR</text>
<line x1="1188.9" y1="837.1" x2="1255.6" y2="837.1" stroke="#B21919" stroke-width="2.1"/>
<path d="M1222.2 828.05L1228.75 837.1L1222.2 846.15L1215.65 837.1Z" stroke="#B21919" stroke-width="2.1" fill="none" stroke-linejoin="miter" stroke-miterlimit="10"/>
<text transform="translate(1260.3,844.3) scale(1.08,1)" font-family='"Liberation Sans", sans-serif' font-size="19" text-anchor="start" fill="#000" stroke="#000" stroke-width="0.25">ASSD</text>
</svg>
</body></html>
